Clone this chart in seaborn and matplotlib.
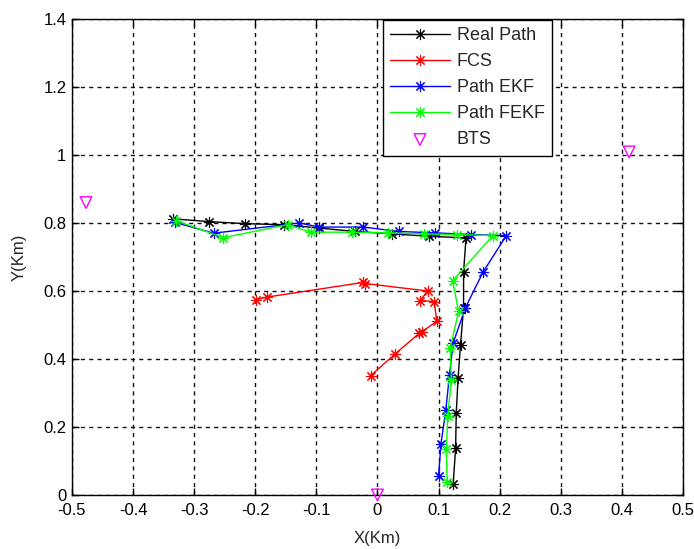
import matplotlib
matplotlib.use("Agg")
import matplotlib.pyplot as plt
from matplotlib.ticker import FuncFormatter
import seaborn as sns

# ---- data ----
real_x = [0.124, 0.128, 0.129, 0.132, 0.136, 0.141, 0.141, 0.145, 0.084, 0.024, -0.036, -0.095, -0.153, -0.216, -0.275, -0.334]
real_y = [0.032, 0.139, 0.241, 0.343, 0.442, 0.551, 0.656, 0.756, 0.761, 0.768, 0.775, 0.785, 0.795, 0.798, 0.804, 0.812]

fcs_x = [-0.011, 0.029, 0.068, 0.073, 0.097, 0.093, 0.070, 0.082, -0.020, -0.024, -0.181, -0.199]
fcs_y = [0.351, 0.415, 0.475, 0.480, 0.511, 0.569, 0.572, 0.600, 0.622, 0.625, 0.582, 0.574]

ekf_x = [0.100, 0.104, 0.112, 0.118, 0.124, 0.144, 0.173, 0.211, 0.153, 0.095, 0.035, -0.023, -0.095, -0.128, -0.268, -0.332]
ekf_y = [0.055, 0.150, 0.251, 0.354, 0.447, 0.551, 0.656, 0.763, 0.766, 0.771, 0.775, 0.788, 0.788, 0.800, 0.770, 0.802]

fekf_x = [0.114, 0.113, 0.115, 0.121, 0.119, 0.133, 0.123, 0.189, 0.131, 0.076, 0.018, -0.042, -0.109, -0.147, -0.252, -0.330]
fekf_y = [0.037, 0.134, 0.231, 0.338, 0.433, 0.540, 0.630, 0.763, 0.766, 0.768, 0.771, 0.773, 0.773, 0.795, 0.757, 0.807]

bts_x = [-0.477, 0.412, 0.0]
bts_y = [0.860, 1.009, 0.0]

series_labels = ["Real Path", "FCS", "Path EKF", "Path FEKF", "BTS"]
x_ticks = [-0.5, -0.4, -0.3, -0.2, -0.1, 0.0, 0.1, 0.2, 0.3, 0.4, 0.5]
y_ticks = [0.0, 0.2, 0.4, 0.6, 0.8, 1.0, 1.2, 1.4]

# ---- style ----
sns.set_theme(style="ticks")
plt.rcParams["font.family"] = ["Liberation Sans", "DejaVu Sans"]
plt.rcParams["font.size"] = 12

fig = plt.figure(figsize=(6.94, 5.49), dpi=100)
ax = fig.add_axes([0.1037, 0.0984, 0.8803, 0.8670])

ast = (8, 2, 0)
series = [
    (real_x, real_y, "#000000"),
    (fcs_x, fcs_y, "#ff0000"),
    (ekf_x, ekf_y, "#0000ff"),
    (fekf_x, fekf_y, "#00ff00"),
]
for (xs, ys, col), lab in zip(series, series_labels[:4]):
    sns.lineplot(x=xs, y=ys, sort=False, estimator=None, color=col,
                 linewidth=1.0, marker=ast, markersize=8,
                 markeredgecolor=col, markeredgewidth=0.8,
                 label=lab, ax=ax)

sns.scatterplot(x=bts_x, y=bts_y, marker="v", s=70, facecolor="none",
                edgecolor="#ff00ff", linewidth=1.0, label=series_labels[4],
                ax=ax, clip_on=False, zorder=5)

ax.set_xlim(-0.5, 0.5)
ax.set_ylim(0, 1.4)
ax.set_xticks(x_ticks)
ax.set_yticks(y_ticks)
fmt = FuncFormatter(lambda v, p: "%g" % round(v, 2))
ax.xaxis.set_major_formatter(fmt)
ax.yaxis.set_major_formatter(fmt)
ax.tick_params(direction="in", length=5, width=1, colors="black",
               top=True, right=True, labelsize=12)
ax.tick_params(axis="x", pad=6)
ax.tick_params(axis="y", pad=4)
for s in ax.spines.values():
    s.set_color("black")
    s.set_linewidth(1.0)
ax.grid(True, color="#111111", linestyle=(0, (3, 3)), linewidth=1.0)
ax.set_axisbelow(True)
ax.set_xlabel("X(Km)", fontsize=12, labelpad=9)
ax.set_ylabel("Y(Km)", fontsize=12, labelpad=12)

leg = ax.legend(loc="upper left", bbox_to_anchor=(0.509, 0.998),
                borderaxespad=0, fancybox=False, framealpha=1,
                edgecolor="black", fontsize=13, handlelength=3.3,
                labelspacing=0.5, borderpad=0.4, handletextpad=0.4)
leg.get_frame().set_linewidth(1.0)

fig.savefig("out.png", dpi=100, facecolor="white")
